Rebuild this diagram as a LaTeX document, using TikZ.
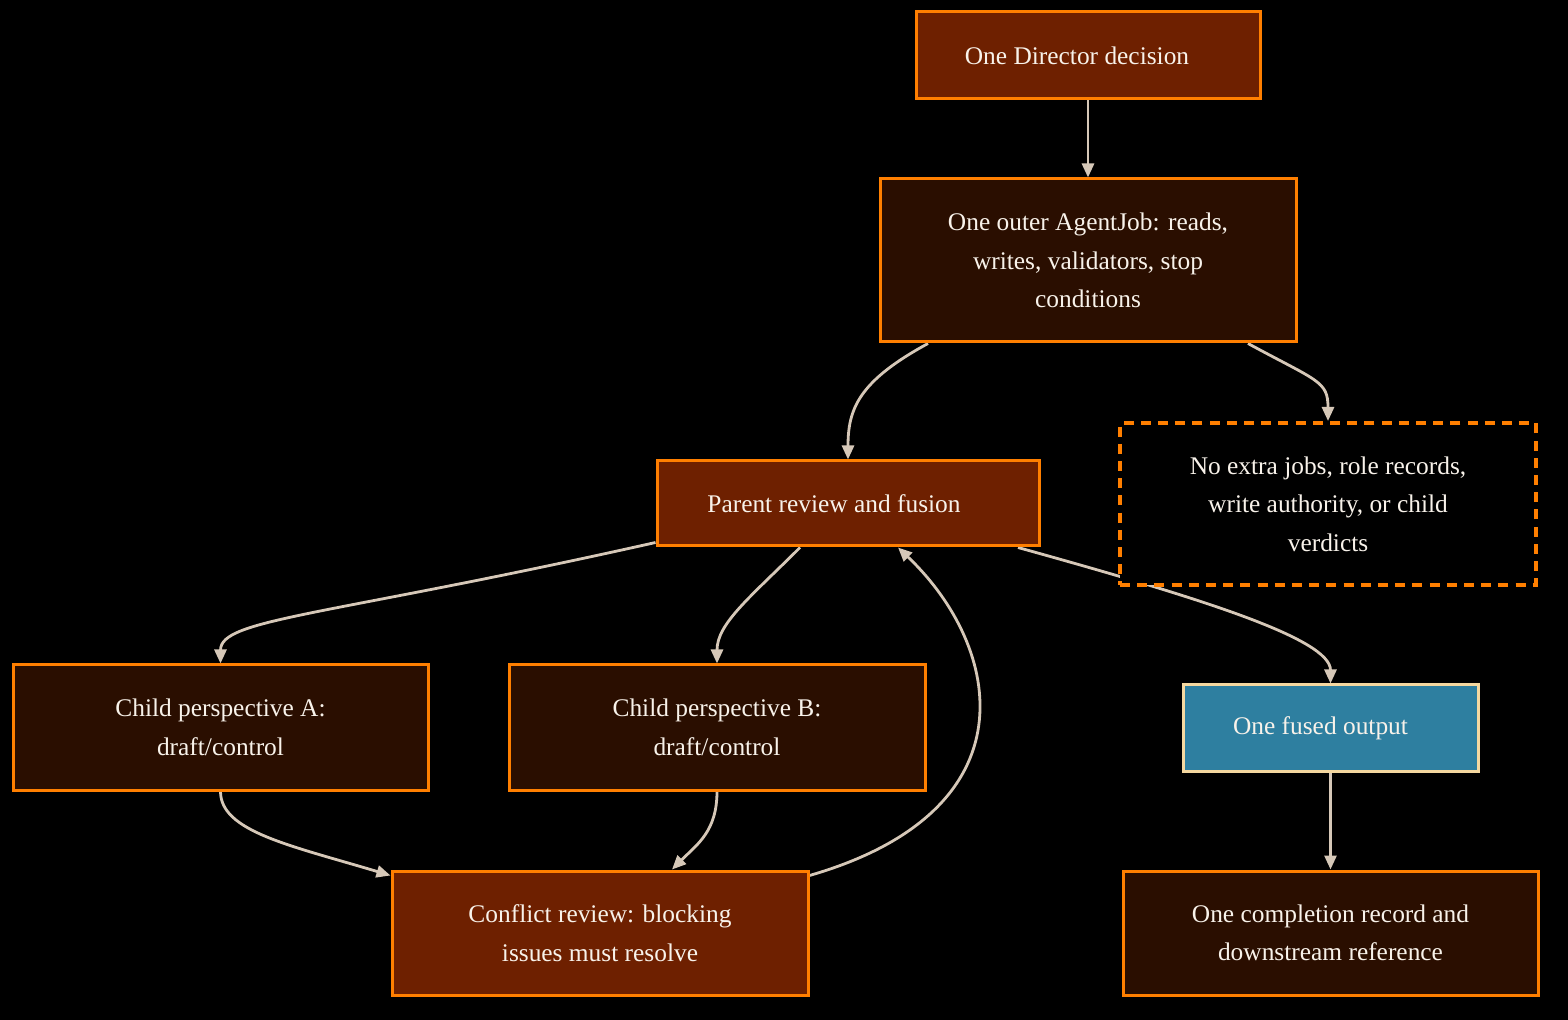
\documentclass[tikz,border=0pt]{standalone}
\usepackage{fontspec}
\setmainfont{Liberation Serif}
\usetikzlibrary{arrows.meta}
\definecolor{orangeline}{HTML}{FF7F00}
\definecolor{rustfill}{HTML}{6E2000}
\definecolor{darkfill}{HTML}{2A0E00}
\definecolor{bluefill}{HTML}{2E7FA0}
\definecolor{tanline}{HTML}{F5D8A0}
\definecolor{edgecol}{HTML}{D6C8B8}
\definecolor{textcol}{HTML}{F8F2EA}
\pgfdeclarelayer{bg}
\pgfdeclarelayer{edges}
\pgfsetlayers{bg,edges,main}

\begin{document}
\begin{tikzpicture}[x=0.5pt,y=-0.5pt,
		box/.style={draw=orangeline,line width=1.5pt,inner sep=0pt,align=center,text=textcol,
			font=\fontsize{12.7}{19.3}\selectfont},
		rustbox/.style={box,fill=rustfill},
		darkbox/.style={box,fill=darkfill},
		notebox/.style={box,fill=black,dashed,dash pattern=on 5pt off 3.6pt,line width=2pt},
		outbox/.style={box,fill=bluefill,draw=tanline},
		edge/.style={draw=edgecol,line width=1.4pt,-{Triangle[length=7pt,width=6pt]}}]
			\begin{pgfonlayer}{bg}
				\fill[black] (0,0) rectangle (1568,1020);
			\end{pgfonlayer}
			\useasboundingbox (0,0) rectangle (1568,1020);
			\node[rustbox,minimum width=172pt,minimum height=43.5pt] (director) at (1088,55.5) {One Director decision\hspace*{11pt}};
			\node[darkbox,minimum width=208pt,minimum height=81.5pt] (outer) at (1088,260.5) {One outer AgentJob: reads,\\ writes, validators, stop\\ conditions};
			\node[rustbox,minimum width=191pt,minimum height=42.5pt] (parent) at (848,503.5) {Parent review and fusion\hspace*{14pt}};
			\node[notebox,minimum width=208pt,minimum height=81pt] (noextra) at (1328,504) {No extra jobs, role records,\\ write authority, or child\\ verdicts};
			\node[darkbox,minimum width=207.5pt,minimum height=62.5pt] (childA) at (220.5,727.5) {Child perspective A:\\ draft/control};
			\node[darkbox,minimum width=208pt,minimum height=62.5pt] (childB) at (717,727.5) {Child perspective B:\\ draft/control};
			\node[outbox,minimum width=147.5pt,minimum height=43pt] (fused) at (1330.5,728) {One fused output\hspace*{10pt}};
			\node[rustbox,minimum width=208pt,minimum height=62pt] (conflict) at (600,933) {Conflict review: blocking\\ issues must resolve};
			\node[darkbox,minimum width=207.5pt,minimum height=62pt] (completion) at (1330.5,933) {One completion record and\\ downstream reference};
			\begin{pgfonlayer}{edges}
				\draw[edge] (director) -- (outer);
				\draw[edge] ([xshift=-80pt]outer.south) .. controls +(-70,38) and +(0,-50) .. (parent.north);
				\draw[edge] ([xshift=80pt]outer.south) .. controls +(70,38) and +(0,-40) .. (noextra.north);
				\draw[edge] ([yshift=2.5pt]parent.south west) .. controls +(-330,74) and +(0,-45) .. (childA.north);
				\draw[edge] ([xshift=-24pt]parent.south) .. controls +(-50,50) and +(0,-40) .. (childB.north);
				\draw[edge] ([xshift=85pt]parent.south) .. controls +(180,50) and +(0,-45) .. (fused.north);
				\draw[edge] (childA.south) .. controls +(0,40) and +(-100,-30) .. ([yshift=-3pt]conflict.north west);
				\draw[edge] (childB.south) .. controls +(0,40) and +(25,-25) .. ([xshift=36pt]conflict.north);
				\draw[edge] ([yshift=-3pt]conflict.north east) .. controls +(225,-65) and +(105,100) .. ([xshift=25pt]parent.south);
				\draw[edge] (fused) -- (completion);
			\end{pgfonlayer}
		\end{tikzpicture}
\end{document}
